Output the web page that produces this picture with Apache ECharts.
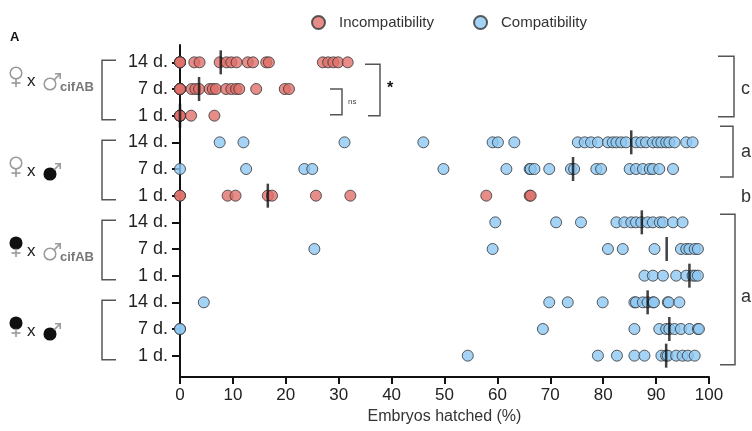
<!DOCTYPE html>
<html><head><meta charset="utf-8">
<script src="https://cdn.jsdelivr.net/npm/echarts@6/dist/echarts.min.js"></script>
<style>html,body{margin:0;padding:0;background:#fff}#main{width:752px;height:431px}</style>
</head><body><div id="main"></div>
<script>
// ---- data ----
const dayLabels = ['14 d.', '7 d.', '1 d.'];
const seriesNames = ['Incompatibility', 'Compatibility'];
const xTicks = [0, 10, 20, 30, 40, 50, 60, 70, 80, 90, 100];

// group 1: female x male cifAB
const g1d14 = [0, 0, 0, 0, 0, 0, 0, 0, 2.7, 3.7, 7.5, 8.8, 9.7, 10.7, 12.8, 13.8, 16.3, 16.8, 27.0, 28.0, 29.0, 29.9, 31.7];
const g1d7 = [0, 0, 0, 0, 0, 0, 2.2, 2.9, 3.6, 5.6, 6.2, 6.8, 8.7, 9.7, 10.6, 11.2, 14.4, 19.8, 20.6];
const g1d1 = [0, 0, 0, 0, 0, 0, 0, 0, 2.1, 6.5];
// group 2: female x male(infected)
const g2d14 = [7.5, 12.0, 31.1, 46.0, 59.1, 60.1, 63.2, 75.2, 76.5, 77.7, 79.0, 80.9, 81.8, 82.5, 83.4, 84.3, 86.2, 87.2, 88.1, 89.4, 90.3, 91.0, 91.9, 92.5, 93.5, 95.7, 96.9];
const g2d7 = [0, 12.5, 23.5, 25.0, 49.8, 61.7, 66.1, 66.3, 67.0, 69.8, 73.9, 74.5, 78.7, 79.6, 85.0, 86.2, 87.5, 88.8, 89.4, 90.6, 93.2];
const g2d1 = [0, 0, 9.0, 10.5, 16.6, 17.4, 25.7, 32.2, 57.9, 66.1, 66.3];
// group 3: female(infected) x male cifAB
const g3d14 = [59.6, 71.1, 75.8, 82.5, 84.0, 85.3, 86.2, 87.2, 88.4, 89.4, 90.7, 91.3, 93.2, 95.0];
const g3d7 = [25.4, 59.1, 80.9, 83.7, 89.7, 94.7, 95.7, 96.3, 97.3, 97.9];
const g3d1 = [87.8, 89.4, 91.3, 93.8, 95.7, 96.9, 97.4, 97.9];
// group 4: female(infected) x male(infected)
const g4d14 = [4.5, 69.8, 73.3, 79.9, 85.9, 86.2, 87.5, 88.4, 89.4, 89.6, 92.2, 92.4, 94.4];
const g4d7 = [0, 0, 68.6, 85.9, 90.6, 91.9, 92.5, 93.5, 94.7, 96.3, 97.9, 98.1];
const g4d1 = [54.4, 79.0, 82.6, 85.9, 87.8, 91.0, 91.9, 92.2, 93.8, 95.0, 96.0, 97.3];

const rowValues = [g1d14, g1d7, g1d1, g2d14, g2d7, g2d1, g3d14, g3d7, g3d1, g4d14, g4d7, g4d1];
const rowKinds = [0, 0, 0, 1, 1, 0, 1, 1, 1, 1, 1, 1]; // 0 = Incompatibility, 1 = Compatibility
const medians = [7.7, 3.6, 0, 85.3, 74.3, 16.6, 87.3, 92.0, 96.3, 88.4, 92.5, 91.9];
const sigLetters = ['c', 'a', 'b', 'a'];

// ---- chart ----
const rowIdx = rowValues.map((_, i) => i);
const colors = ['#e0706b', '#8ec8f2'];
const font = "'Liberation Sans', Arial, sans-serif";

function seriesData(kind) {
  const out = [];
  rowValues.forEach((vals, r) => {
    if (rowKinds[r] === kind) vals.forEach(v => out.push([v, r]));
  });
  return out;
}

const chart = echarts.init(document.getElementById('main'), null, {renderer: 'canvas'});
const option = {
  animation: false,
  backgroundColor: '#fff',
  textStyle: {fontFamily: font},
  legend: {
    data: seriesNames,
    top: 10, left: 306,
    icon: 'circle', itemWidth: 13, itemHeight: 13, itemGap: 39,
    textStyle: {fontSize: 15, color: '#333', fontFamily: font, padding: [0, 0, 0, 9]}
  },
  grid: {left: 180, right: 43, top: 45, bottom: 54},
  xAxis: {
    type: 'value', min: 0, max: 100, interval: 10,
    name: 'Embryos hatched (%)', nameLocation: 'middle', nameGap: 32,
    nameTextStyle: {fontSize: 16, color: '#333', fontFamily: font},
    axisLine: {show: true, onZero: false, lineStyle: {color: '#111', width: 2}},
    axisTick: {show: true, length: 7, lineStyle: {color: '#111', width: 2}},
    axisLabel: {fontSize: 17, color: '#222', margin: 10, fontFamily: font, formatter: v => xTicks.includes(v) ? String(v) : ''},
    splitLine: {show: false}
  },
  yAxis: {
    type: 'value', inverse: true, min: -0.65, max: 11.8,
    axisLine: {show: true, onZero: false, lineStyle: {color: '#111', width: 2}},
    axisTick: {show: true, length: 8, customValues: rowIdx, lineStyle: {color: '#111', width: 2}},
    axisLabel: {fontSize: 18, color: '#222', margin: 12, fontFamily: font, customValues: rowIdx,
      formatter: v => dayLabels[Math.round(v) % 3]},
    splitLine: {show: false}
  },
  series: [
    {
      name: seriesNames[0], type: 'scatter', symbolSize: 11, z: 3,
      itemStyle: {color: colors[0], borderColor: '#333', borderWidth: 1},
      data: seriesData(0)
    },
    {
      name: seriesNames[1], type: 'scatter', symbolSize: 11, z: 3,
      itemStyle: {color: colors[1], borderColor: '#333', borderWidth: 1},
      data: seriesData(1)
    },
    {
      name: 'median', type: 'scatter', symbol: 'rect', symbolSize: [2.5, 24], z: 5,
      itemStyle: {color: '#111'}, silent: true,
      data: medians.map((m, r) => [m, r])
    }
  ]
};
chart.setOption(option);

// ---- annotations (brackets, group labels) ----
const yp = r => chart.convertToPixel({yAxisIndex: 0}, r);
const G = [];
const grey = '#555';
function pl(points, color, w) {
  G.push({type: 'polyline', silent: true, shape: {points: points}, style: {stroke: color || grey, lineWidth: w || 1.5, fill: null}});
}
function txt(x, y, s, size, color, extra) {
  G.push({type: 'text', silent: true, x: x, y: y,
    style: Object.assign({text: s, fontSize: size, fill: color || '#222', fontFamily: font, textVerticalAlign: 'middle', verticalAlign: 'middle'}, extra || {})});
}
function circ(cx, cy, r, fill, stroke) {
  G.push({type: 'circle', silent: true, shape: {cx: cx, cy: cy, r: r}, style: {fill: fill, stroke: stroke, lineWidth: 1.5}});
}
function female(cx, cy, filled) {
  circ(cx, cy, 5.8, filled ? '#111' : '#fff', filled ? '#111' : '#999');
  pl([[cx, cy + 5.8], [cx, cy + 14]], '#999', 1.6);
  pl([[cx - 4.5, cy + 10], [cx + 4.5, cy + 10]], '#999', 1.6);
}
function male(cx, cy, filled) {
  circ(cx, cy, 5.8, filled ? '#111' : '#fff', filled ? '#111' : '#999');
  pl([[cx + 4.1, cy - 4.1], [cx + 10, cy - 10]], '#999', 1.6);
  pl([[cx + 5, cy - 10.2], [cx + 10.2, cy - 10.2], [cx + 10.2, cy - 5]], '#999', 1.6);
}

// panel letter
txt(10, 37, 'A', 13, '#111', {fontWeight: 'bold'});

// left brackets + group labels
const groupDy = [-8, 2, 2, 2];
const femaleFilled = [false, false, true, true];
const maleFilled = [false, true, false, true];
const maleSub = [true, false, true, false];
for (let g = 0; g < 4; g++) {
  const top = yp(3 * g) - 2, bot = yp(3 * g + 2) + 4;
  pl([[116, top], [102, top], [102, bot], [116, bot]], grey, 1.5);
  const y = yp(3 * g + 1) + groupDy[g];
  female(16, y - 8, femaleFilled[g]);
  txt(27, y, 'x', 17, '#222');
  male(50, y + 3, maleFilled[g]);
  if (maleSub[g]) txt(60, y + 6, 'cifAB', 13, '#777', {fontWeight: 'bold'});
}

// significance brackets inside plot
{
  const t = yp(0) + 2, b = yp(2);
  pl([[365, t], [380, t], [380, b], [368, b]], grey, 1.5);
  txt(387, yp(1), '*', 16, '#111', {fontWeight: 'bold'});
  const t2 = yp(1), b2 = yp(2) - 1;
  pl([[330, t2], [342, t2], [342, b2], [330, b2]], grey, 1.5);
  txt(348, (t2 + b2) / 2, 'ns', 8, '#444');
}

// right-side brackets + letters
{
  let t = yp(0) - 6, b = yp(2) + 1;
  pl([[718, t], [734, t], [734, b], [718, b]], grey, 1.5);
  txt(741, yp(1), sigLetters[0], 18, '#333');
  t = yp(3) - 16; b = yp(4) + 8;
  pl([[720, t], [733, t], [733, b], [720, b]], grey, 1.5);
  txt(741, (t + b) / 2, sigLetters[1], 18, '#333');
  txt(741, yp(5) + 1, sigLetters[2], 18, '#333');
  t = yp(6) - 8; b = yp(11) + 9;
  pl([[720, t], [735, t], [735, b], [720, b]], grey, 1.5);
  txt(741, yp(9) - 5, sigLetters[3], 18, '#333');
}

chart.setOption({graphic: G});
</script>
</body></html>
